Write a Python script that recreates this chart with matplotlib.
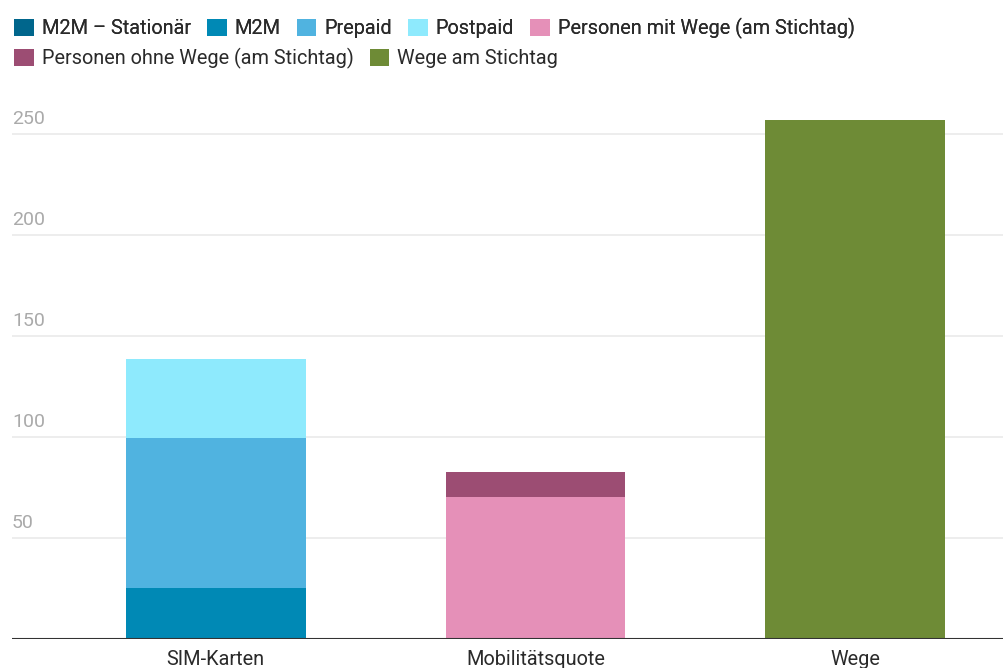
import matplotlib.pyplot as plt
from matplotlib.patches import Patch
from matplotlib.transforms import blended_transform_factory
import numpy as np

plt.rcParams['font.family'] = ['Roboto', 'DejaVu Sans']

# Daten
categories = ["SIM-Karten", "Mobilitätsquote", "Wege"]
series = ["M2M – Stationär", "M2M", "Prepaid", "Postpaid",
          "Personen mit Wege (am Stichtag)", "Personen ohne Wege (am Stichtag)",
          "Wege am Stichtag"]
m2m_stationaer = [0.6, 0, 0]
m2m = [24.6, 0, 0]
prepaid = [74.5, 0, 0]
postpaid = [39, 0, 0]
mit_wege = [0, 70.5, 0]
ohne_wege = [0, 12, 0]
wege = [0, 0, 257]
yticks = [50, 100, 150, 200, 250]

colors = ["#00668c", "#0089b5", "#50b3e0", "#8eeafd",
          "#e590b8", "#9c4d73", "#6e8b36"]

fig = plt.figure(figsize=(10.04, 6.68), dpi=100)
ax = fig.add_axes([12 / 1004, 29 / 668, 1 - 12 / 1004, 535 / 668])

x = np.arange(len(categories))
bottom = np.zeros(len(categories))
for vals, col in zip([m2m_stationaer, m2m, prepaid, postpaid, mit_wege, ohne_wege, wege], colors):
    ax.bar(x, vals, 0.5625, bottom=bottom, color=col, zorder=3)
    bottom += np.array(vals)

ax.set_xlim(-0.6375, 2.466)
ax.set_ylim(0, 265)

# Gitter und Beschriftungen
for t in yticks:
    ax.axhline(t, color="#ececec", lw=1.3, zorder=1)
trans = blended_transform_factory(ax.transAxes, ax.transData)
for t in yticks:
    ax.text(0.0, t + 3, str(t), transform=trans, ha="left", va="bottom",
            color="#aaaaaa", fontsize=14)
ax.set_yticks([])
ax.axhline(0, color="#333333", lw=1.5, zorder=4)

ax.set_xticks(x)
ax.set_xticklabels(categories, fontsize=14.3, color="#2a2a2a")
ax.tick_params(axis="x", length=0, pad=8)
for s in ax.spines.values():
    s.set_visible(False)

# Legende in zwei Zeilen
handles = [Patch(facecolor=c, edgecolor="none") for c in colors]
leg_kw = dict(frameon=False, prop={"size": 14.3},
              handlelength=1.0, handleheight=1.0,
              handletextpad=0.4, columnspacing=0.8, borderpad=0, borderaxespad=0,
              loc="upper left", labelcolor="#2a2a2a")
leg1 = fig.legend(handles[:5], series[:5], ncol=5,
                  bbox_to_anchor=(14 / 1004, 1 - 18 / 668), **leg_kw)
fig.add_artist(leg1)
fig.legend(handles[5:], series[5:], ncol=2,
           bbox_to_anchor=(14 / 1004, 1 - 48 / 668), **leg_kw)

fig.savefig("out.png", dpi=100)
